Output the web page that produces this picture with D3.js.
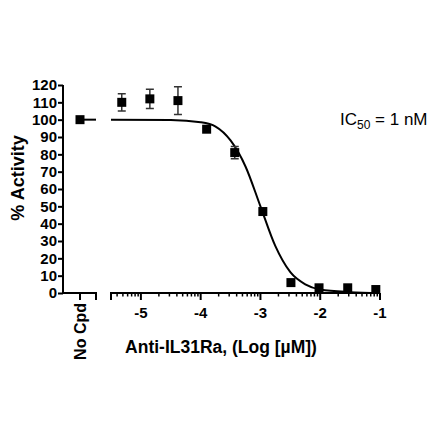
<!DOCTYPE html>
<html><head><meta charset="utf-8">
<script src="https://cdn.jsdelivr.net/npm/d3@7"></script>
<style>body{margin:0;background:#fff}svg{display:block}text{font-family:"Liberation Sans",Arial,sans-serif}</style>
</head><body><svg id="c" width="440" height="440"></svg>
<script>
const logConc = [-5.32,-4.85,-4.38,-3.90,-3.43,-2.96,-2.49,-2.02,-1.54,-1.07];
const activity = [110,112,111,94.5,81,47,6,3,3,2];
const activityErr = [5,5.5,8,0,3.5,0,0,0,0,0];
const noCpdValue = 100;
const curveX = [-5.5,-4.5,-4.0,-3.75,-3.5,-3.25,-3.0,-2.75,-2.5,-2.25,-2.0,-1.5,-1.0];
const curveY = [100,99.8,98.5,96,88,73,50,27,12,5,2,0.5,0];
const yTicks = [0,10,20,30,40,50,60,70,80,90,100,110,120];
const xTicks = [-5,-4,-3,-2,-1];

const svg = d3.select("#c");
const y = d3.scaleLinear().domain([0,120]).range([293,85]);
const x = d3.scaleLinear().domain([-5.5,-1]).range([111,380]);
const xl = d3.scalePoint().domain(["No Cpd"]).range([80,80]);

// Y axis
const yAx = svg.append("g").attr("transform","translate(63,0)")
  .call(d3.axisLeft(y).tickValues(yTicks).tickSize(5).tickPadding(1));
yAx.select(".domain").attr("stroke-width",2).attr("d","M0,"+y(120)+"V"+y(0));
yAx.selectAll(".tick line").attr("stroke-width",2);
yAx.selectAll("text").attr("font-size",15).attr("font-weight","bold").attr("fill","#000").attr("font-family","'Liberation Sans',Arial,sans-serif");

// left x axis (No Cpd)
const lx = svg.append("g").attr("transform","translate(0,293)");
lx.append("path").attr("d","M62,0H96V7").attr("fill","none").attr("stroke","#000").attr("stroke-width",2);
lx.append("line").attr("x1",xl("No Cpd")).attr("x2",xl("No Cpd")).attr("y1",0).attr("y2",7).attr("stroke","#000").attr("stroke-width",2);
lx.append("text").attr("transform","translate("+(xl("No Cpd")+6)+",10) rotate(-90)")
  .attr("text-anchor","end").attr("font-size",16).attr("font-weight","bold").text("No Cpd");

// right x axis
const minor = [];
for (let d=-6; d<-1; d++) for (let k=2;k<=9;k++){const v=d+Math.log10(k); if(v>=-5.5&&v<=-1) minor.push(v);}
const rx = svg.append("g").attr("transform","translate(0,293)");
rx.append("path").attr("d","M"+x(-5.5)+",7V0H"+x(-1)).attr("fill","none").attr("stroke","#000").attr("stroke-width",2);
rx.selectAll(".mn").data(minor).join("line").attr("x1",d=>x(d)).attr("x2",d=>x(d)).attr("y1",0).attr("y2",3.5).attr("stroke","#000").attr("stroke-width",1.5);
rx.selectAll(".mj").data(xTicks).join("line").attr("x1",d=>x(d)).attr("x2",d=>x(d)).attr("y1",0).attr("y2",7).attr("stroke","#000").attr("stroke-width",2);
rx.selectAll(".lb").data(xTicks).join("text").attr("x",d=>x(d)).attr("y",25).attr("text-anchor","middle")
  .attr("font-size",15).attr("font-weight","bold").text(d=>"-"+Math.abs(d));

// axis titles
svg.append("text").attr("x",221).attr("y",353).attr("text-anchor","middle").attr("font-size",17.5).attr("font-weight","bold").text("Anti-IL31Ra, (Log [µM])");
svg.append("text").attr("transform","translate(24,178) rotate(-90)").attr("text-anchor","middle").attr("font-size",18).attr("font-weight","bold").text("% Activity");

// curve
const pts = curveX.map((v,i)=>[x(v),y(curveY[i])]);
svg.append("path").attr("d",d3.line().curve(d3.curveMonotoneX)(pts)).attr("fill","none").attr("stroke","#000").attr("stroke-width",2);

// No Cpd line segment & marker
svg.append("line").attr("x1",xl("No Cpd")).attr("x2",96).attr("y1",y(noCpdValue)).attr("y2",y(noCpdValue)).attr("stroke","#000").attr("stroke-width",2);
svg.append("rect").attr("x",xl("No Cpd")-4.5).attr("y",y(noCpdValue)-4.5).attr("width",9).attr("height",9).attr("fill","#000");

// error bars
const eb = svg.append("g");
logConc.forEach((v,i)=>{
  const e = activityErr[i]; if(!e) return;
  const cx = x(v);
  eb.append("path").attr("d","M"+cx+","+y(activity[i]+e)+"V"+y(activity[i]-e)+"M"+(cx-4)+","+y(activity[i]+e)+"h8M"+(cx-4)+","+y(activity[i]-e)+"h8")
    .attr("stroke","#333").attr("stroke-width",1.5).attr("fill","none");
});
svg.selectAll(".pt").data(logConc).join("rect").attr("x",d=>x(d)-4.5).attr("y",(d,i)=>y(activity[i])-4.5).attr("width",9).attr("height",9).attr("fill","#000");

// IC50
const t = svg.append("text").attr("x",340).attr("y",125).attr("font-size",17);
t.append("tspan").text("IC");
t.append("tspan").attr("font-size",12).attr("dy",4).text("50");
t.append("tspan").attr("dy",-4).text(" = 1 nM");
</script></body></html>
